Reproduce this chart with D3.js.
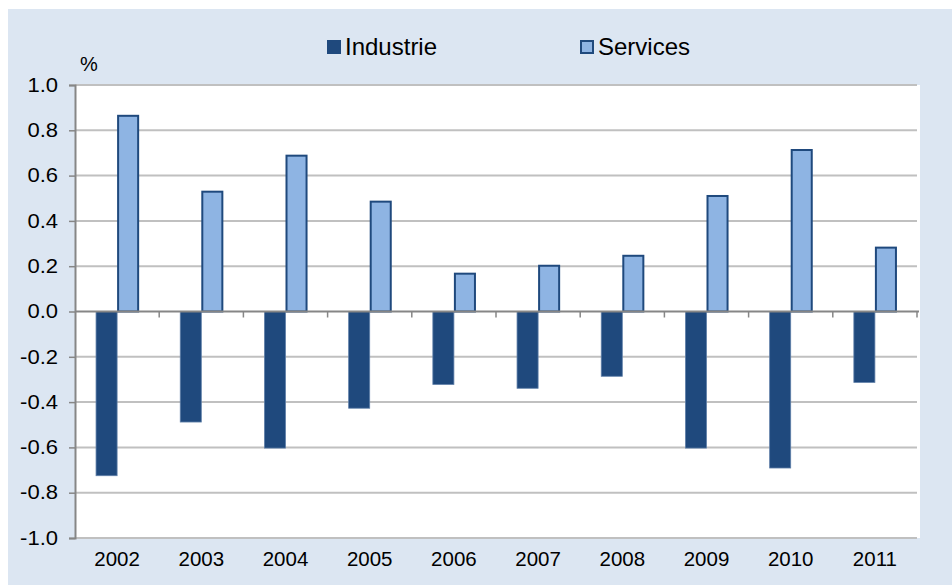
<!DOCTYPE html>
<html>
<head>
<meta charset="utf-8">
<script src="https://cdn.jsdelivr.net/npm/d3@7/dist/d3.min.js"></script>
<style>
  html, body { margin: 0; padding: 0; background: #ffffff; }
  svg { display: block; font-family: "Liberation Sans", Arial, sans-serif; }
</style>
</head>
<body>
<svg id="chart" width="952" height="585"></svg>
<script>
// Annual contribution by sector, in percentage points
const years = ["2002", "2003", "2004", "2005", "2006", "2007", "2008", "2009", "2010", "2011"];
const industrie = [-0.725, -0.488, -0.603, -0.427, -0.322, -0.339, -0.286, -0.603, -0.691, -0.313];
const services = [0.864, 0.529, 0.688, 0.485, 0.167, 0.202, 0.246, 0.510, 0.713, 0.282];
const seriesNames = ["Industrie", "Services"];
const yTicks = [1.0, 0.8, 0.6, 0.4, 0.2, 0.0, -0.2, -0.4, -0.6, -0.8, -1.0];

const svg = d3.select("#chart");
const W = 952, H = 585;
const plot = { left: 75, right: 917, top: 85, bottom: 538 };

// panel background
svg.append("rect").attr("x", 8).attr("y", 9).attr("width", W - 8).attr("height", H - 9)
  .attr("fill", "#dce6f2");
svg.append("rect").attr("x", plot.left).attr("y", plot.top)
  .attr("width", plot.right - plot.left + 3).attr("height", plot.bottom - plot.top)
  .attr("fill", "#ffffff");

const x = d3.scaleBand().domain(years).range([plot.left, plot.right])
  .paddingInner(0.5).paddingOuter(0.25);
const xs = d3.scaleBand().domain(seriesNames).range([0, x.bandwidth()]);
const y = d3.scaleLinear().domain([-1, 1]).range([plot.bottom, plot.top]);

// horizontal gridlines
svg.append("g").selectAll("line").data(yTicks.filter(t => t !== 0)).join("line")
  .attr("x1", plot.left).attr("x2", plot.right)
  .attr("y1", d => y(d)).attr("y2", d => y(d))
  .attr("stroke", "#c0c0c0").attr("stroke-width", 2);

// y axis (labels slightly widened)
const yAxis = d3.axisLeft(y).tickValues(yTicks).tickFormat(d3.format(".1f"))
  .tickSize(6).tickPadding(9);
const gy = svg.append("g").attr("transform", `translate(${plot.left},0)`).call(yAxis);
gy.select(".domain").attr("stroke", "#868686").attr("stroke-width", 2);
gy.selectAll(".tick line").attr("stroke", "#868686").attr("stroke-width", 1.5);
gy.selectAll(".tick text").attr("font-size", 19.5).attr("fill", "#000")
  .attr("font-family", "'Liberation Sans', Arial, sans-serif")
  .attr("transform", "scale(1.13,1)")
  .text(d => d3.format(".1f")(d).replace("−", "-"));

// unit label
svg.append("text").attr("x", 80).attr("y", 71).attr("font-size", 20).attr("fill", "#000").text("%");

// bars
const fills = { Industrie: "#1f497d", Services: "#8eb4e3" };
const groups = svg.append("g").selectAll("g").data(years).join("g")
  .attr("transform", d => `translate(${x(d)},0)`);

groups.append("rect")
  .attr("x", xs("Industrie"))
  .attr("width", xs.bandwidth())
  .attr("y", (d, i) => Math.min(y(industrie[i]), y(0)))
  .attr("height", (d, i) => Math.abs(y(industrie[i]) - y(0)))
  .attr("fill", fills.Industrie)
  .attr("stroke", "#5f7fa8").attr("stroke-width", 0.8);

groups.append("rect")
  .attr("x", xs("Services") + 1)
  .attr("width", xs.bandwidth() - 1)
  .attr("y", (d, i) => Math.min(y(services[i]), y(0)))
  .attr("height", (d, i) => Math.abs(y(services[i]) - y(0)))
  .attr("fill", fills.Services)
  .attr("stroke", "#1f497d").attr("stroke-width", 2);

// zero axis with category separators
svg.append("line").attr("x1", plot.left).attr("x2", plot.right + 2)
  .attr("y1", y(0)).attr("y2", y(0)).attr("stroke", "#868686").attr("stroke-width", 2);
const step = x.step();
const bounds = d3.range(1, years.length + 1).map(i => plot.left + i * step);
svg.append("g").selectAll("line").data(bounds).join("line")
  .attr("x1", d => d).attr("x2", d => d)
  .attr("y1", y(0)).attr("y2", y(0) + 6)
  .attr("stroke", "#868686").attr("stroke-width", 1.5);

// category labels
svg.append("g").selectAll("text").data(years).join("text")
  .attr("x", d => x(d) + x.bandwidth() / 2)
  .attr("y", 565.5)
  .attr("text-anchor", "middle")
  .attr("font-size", 20.5).attr("fill", "#000")
  .text(d => d);

// legend
const legend = [
  { name: "Industrie", x: 327, fill: fills.Industrie, stroke: "none" },
  { name: "Services", x: 580, fill: fills.Services, stroke: "#1f497d" }
];
const lg = svg.append("g").selectAll("g").data(legend).join("g")
  .attr("transform", d => `translate(${d.x},40)`);
lg.append("rect").attr("x", d => d.stroke === "none" ? 0 : 1).attr("y", d => d.stroke === "none" ? 0 : 1)
  .attr("width", d => d.stroke === "none" ? 14 : 12).attr("height", d => d.stroke === "none" ? 14 : 12)
  .attr("fill", d => d.fill).attr("stroke", d => d.stroke).attr("stroke-width", 2);
lg.append("text").attr("x", 18).attr("y", 15).attr("font-size", 24).attr("fill", "#000")
  .text(d => d.name);
</script>
</body>
</html>
